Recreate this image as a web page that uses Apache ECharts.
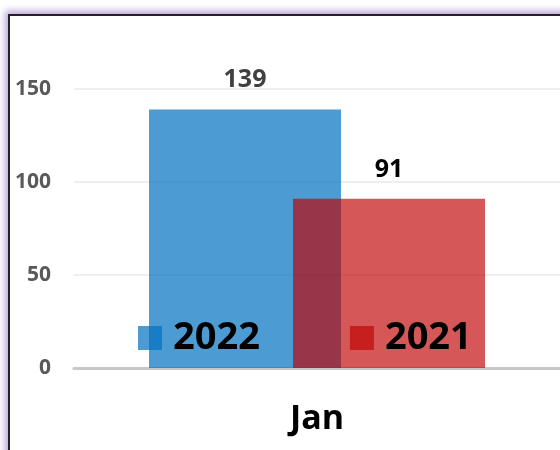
<!DOCTYPE html>
<html>
<head>
<meta charset="utf-8">
<script src="https://cdn.jsdelivr.net/npm/echarts@6/dist/echarts.min.js"></script>
<style>
  html, body { margin: 0; padding: 0; width: 560px; height: 450px; overflow: hidden; background: #fff; }
  #main { position: absolute; left: 0; top: 0; width: 560px; height: 450px; }
  #frame {
    position: absolute; left: 8px; top: 14px; width: 640px; height: 520px;
    border: 2px solid #222; box-sizing: border-box;
    box-shadow: 0 0 7px 3px rgba(170, 140, 210, 0.8);
    pointer-events: none;
  }
</style>
</head>
<body>
<div id="main"></div>
<div id="frame"></div>
<script>
  // data
  var categories = ['Jan']
  var seriesNames = ['2022', '2021']
  var values2022 = [139]
  var values2021 = [91]
  var yTicks = [0, 50, 100, 150]

  var font = 'Open Sans'
  var myChart = echarts.init(document.getElementById('main'))
  myChart.setOption({
    animation: false,
    textStyle: { fontFamily: font },
    grid: { left: 74, right: -2, top: 89, bottom: 82 },
    legend: {
      data: seriesNames,
      left: 138,
      top: 319,
      padding: 0,
      itemWidth: 24,
      itemHeight: 24,
      itemGap: 90,
      icon: 'rect',
      textStyle: { fontSize: 38, fontWeight: 'bold', color: '#000', fontFamily: font, padding: [0, 0, 0, 6] }
    },
    xAxis: {
      type: 'category',
      data: categories,
      axisTick: { show: false },
      axisLine: { lineStyle: { color: '#c8c8c8', width: 3 } },
      axisLabel: { fontSize: 34, fontWeight: 'bold', color: '#000', margin: 34 }
    },
    yAxis: {
      type: 'value',
      min: yTicks[0],
      max: yTicks[yTicks.length - 1],
      interval: 50,
      axisLine: { show: false },
      axisTick: { show: false },
      splitLine: { lineStyle: { color: '#eeeeee', width: 2 } },
      axisLabel: { fontSize: 21, fontWeight: 'bold', color: '#595959', margin: 23 }
    },
    series: [
      {
        name: seriesNames[0],
        type: 'bar',
        data: values2022,
        barWidth: 192,
        barGap: '-25%',
        itemStyle: { color: 'rgba(0,112,192,0.7)' },
        label: { show: true, position: 'top', distance: 17, fontSize: 25, fontWeight: 'bold', color: '#404040' }
      },
      {
        name: seriesNames[1],
        type: 'bar',
        data: values2021,
        barWidth: 192,
        itemStyle: { color: 'rgba(192,0,0,0.66)' },
        label: { show: true, position: 'top', distance: 16, fontSize: 25, fontWeight: 'bold', color: '#000' }
      }
    ]
  })
</script>
</body>
</html>
